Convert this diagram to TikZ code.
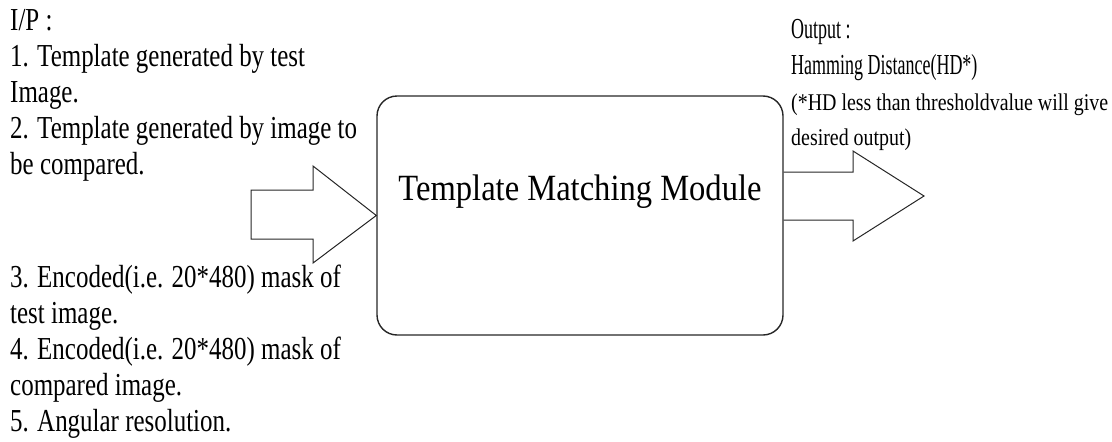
\documentclass[tikz,border=0pt]{standalone}
\usepackage{fontspec}
\newfontfamily\leftfont[FakeStretch=0.78]{Liberation Serif}
\newfontfamily\boxfont[FakeStretch=0.88]{Liberation Serif}
\newfontfamily\outfont[FakeStretch=0.62]{Liberation Serif}
\newfontfamily\notefont[FakeStretch=0.83]{Liberation Serif}
\begin{document}
\begin{tikzpicture}[x=1pt,y=-1pt,
  inputtext/.style={anchor=base west,inner sep=0pt,font=\leftfont\fontsize{32}{36}\selectfont},
  outtext/.style={anchor=base west,inner sep=0pt,font=\outfont\fontsize{29}{33}\selectfont},
  notetext/.style={anchor=base west,inner sep=0pt,font=\notefont\fontsize{24}{28}\selectfont},
  module/.style={draw=black!85,line width=1.4pt,rounded corners=20pt,minimum width=406pt,minimum height=239pt,inner sep=0pt},
  fatarrow/.style={draw=black!85,line width=1pt,line join=miter}]
\useasboundingbox (0,0) rectangle (1112,442);
% input text
\node[inputtext] (l1) at (10,30) {I/P :};
\node[inputtext] (l2) at (10,66) {1. Template generated by test};
\node[inputtext] (l3) at (10,102) {Image.};
\node[inputtext] (l4) at (10,138) {2. Template generated by image to};
\node[inputtext] (l5) at (10,174) {be compared.};
\node[inputtext] (l6) at (10,287) {3. Encoded(i.e. 20*480) mask of};
\node[inputtext] (l7) at (10,323) {test image.};
\node[inputtext] (l8) at (10,359) {4. Encoded(i.e. 20*480) mask of};
\node[inputtext] (l9) at (10,395) {compared image.};
\node[inputtext] (l10) at (10,431) {5. Angular resolution.};
% module
\node[module] (box) at (580,215.5) {};
\node[anchor=base,inner sep=0pt,font=\boxfont\fontsize{37}{40}\selectfont] (title) at (580,200) {Template Matching Module};
% output text
\node[outtext] (r1) at (791,38) {Output :};
\node[outtext] (r2) at (791,74) {Hamming Distance(HD*)};
\node[notetext] (r3) at (791,110) {(*HD less than thresholdvalue will give};
\node[notetext] (r4) at (791,145) {desired output)};
% input arrow
\coordinate (inTip) at (box.west);
\draw[fatarrow] (251,190) -- (313,190) -- (313,166) -- (inTip) -- (313,263) -- (313,239) -- (251,239) -- cycle;
% output arrow
\coordinate (outTop) at ([yshift=43.5pt]box.east);
\coordinate (outBot) at ([yshift=-4.5pt]box.east);
\draw[fatarrow] (outTop) -- (853,172) -- (853,151) -- (924,196) -- (853,241) -- (853,220) -- (outBot);
\end{tikzpicture}
\end{document}
